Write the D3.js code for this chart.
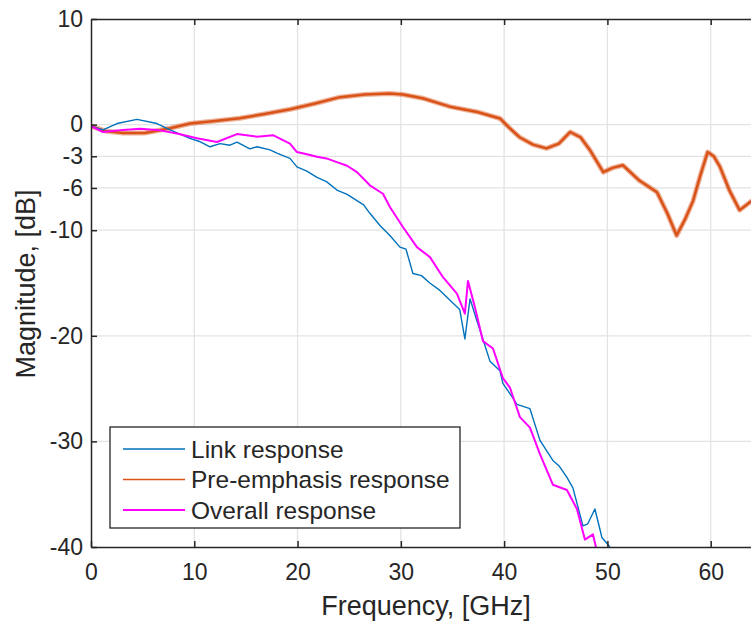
<!DOCTYPE html>
<html>
<head>
<meta charset="utf-8">
<script src="https://cdn.jsdelivr.net/npm/d3@7"></script>
<style>
  body { margin: 0; background: #fff; }
  text { font-family: "Liberation Sans", Arial, sans-serif; fill: #262626; }
</style>
</head>
<body>
<div id="container"></div>
<script>
/* DATA */
const freqLink = [0, 1.16, 2.52, 4.45, 6.39, 7.65, 9.58, 10.5, 11.52, 12.5, 13.46, 14.13, 15.39, 16.07, 17.33, 18.0, 19.26, 19.94, 20.9, 21.88, 22.8, 23.81, 24.8, 25.75, 26.4, 27.0, 27.98, 28.94, 29.91, 30.5, 31.17, 32.0, 32.8, 33.78, 35.04, 35.7, 36.2, 36.7, 37.37, 38.0, 38.63, 39.59, 39.88, 40.85, 41.24, 42.5, 43.47, 44.72, 45.3, 46.08, 46.66, 47.63, 48.1, 48.79, 49.47, 50.24];
const magLink = [-0.15, -0.5, 0.1, 0.5, 0.1, -0.5, -1.3, -1.6, -2.1, -1.8, -1.95, -1.65, -2.3, -2.1, -2.4, -2.7, -3.2, -4.0, -4.4, -5.0, -5.4, -6.2, -6.6, -7.2, -7.6, -8.4, -9.55, -10.5, -11.6, -11.8, -14.1, -14.3, -15.0, -15.7, -16.9, -17.5, -20.3, -16.5, -18.6, -20.5, -22.4, -23.3, -24.5, -25.9, -26.5, -26.9, -29.9, -31.8, -32.3, -33.4, -34.4, -38.0, -37.8, -36.4, -39.1, -40.0];

const freqPre = [0, 1.36, 3.1, 5.2, 7.65, 9.6, 12.0, 14.4, 16.8, 19.3, 21.7, 24.1, 26.5, 28.9, 30.2, 32.1, 34.75, 37.4, 39.6, 40.5, 41.5, 42.8, 44.1, 45.3, 46.4, 47.4, 48.3, 49.6, 50.5, 51.5, 53.1, 54.8, 55.8, 56.7, 57.5, 58.3, 59.0, 59.7, 60.3, 60.9, 61.8, 62.8, 64.0];
const magPre = [-0.15, -0.6, -0.8, -0.8, -0.35, 0.1, 0.35, 0.6, 1.0, 1.45, 2.0, 2.6, 2.85, 2.95, 2.85, 2.5, 1.7, 1.2, 0.58, -0.3, -1.2, -1.9, -2.25, -1.8, -0.7, -1.2, -2.4, -4.5, -4.1, -3.85, -5.3, -6.4, -8.4, -10.5, -9.0, -7.2, -4.8, -2.6, -3.0, -4.0, -6.2, -8.1, -7.2];

const freqAll = [0, 1.16, 3.1, 4.74, 6.39, 8.33, 10.26, 12.2, 14.13, 16.07, 17.62, 19.26, 19.94, 20.9, 21.88, 22.8, 23.81, 24.8, 25.75, 27.0, 28.27, 28.94, 30.2, 31.56, 32.82, 34.08, 35.43, 36.2, 36.5, 37.17, 37.95, 38.92, 39.88, 40.56, 41.53, 42.5, 43.47, 44.72, 46.08, 47.05, 47.82, 48.6, 48.98];
const magAll = [-0.15, -0.7, -0.5, -0.4, -0.5, -0.85, -1.3, -1.65, -0.9, -1.15, -1.0, -1.8, -2.6, -2.8, -3.05, -3.2, -3.55, -3.9, -4.5, -5.75, -6.55, -7.8, -9.7, -11.6, -12.55, -14.45, -16.0, -17.9, -14.8, -17.3, -20.5, -21.2, -24.0, -24.9, -27.7, -28.7, -31.2, -34.1, -34.6, -36.4, -39.3, -38.8, -40.4];

const seriesNames = ["Link response", "Pre-emphasis response", "Overall response"];
const xTicks = [0, 10, 20, 30, 40, 50, 60];
const yTicks = [10, 0, -3, -6, -10, -20, -30, -40];

/* LAYOUT */
const W = 751, H = 623;
const margin = { top: 19, right: -1, bottom: 76, left: 91 };
const width = W - margin.left - margin.right;
const height = H - margin.top - margin.bottom;
const colors = ["#0072BD", "#D95319", "#FF00FF"];

const x = d3.scaleLinear().domain([0, 64]).range([0, width]);
const y = d3.scaleLinear().domain([-40, 10]).range([height, 0]);

const svg = d3.select('#container').append('svg')
  .attr('width', W).attr('height', H);

svg.append('defs').append('clipPath').attr('id', 'clip')
  .append('rect').attr('width', width).attr('height', height);

const chart = svg.append('g')
  .attr('transform', `translate(${margin.left}, ${margin.top})`);

// grid
chart.append('g').selectAll('line.vg')
  .data(xTicks.slice(1)).join('line')
  .attr('x1', d => x(d)).attr('x2', d => x(d))
  .attr('y1', 0).attr('y2', height)
  .attr('stroke', '#e3e3e3').attr('stroke-width', 1.3);
chart.append('g').selectAll('line.hg')
  .data(yTicks.filter(d => d > -40 && d < 10)).join('line')
  .attr('x1', 0).attr('x2', width)
  .attr('y1', d => y(d)).attr('y2', d => y(d))
  .attr('stroke', '#e3e3e3').attr('stroke-width', 1.3);

// lines
const line = d3.line().x(d => x(d[0])).y(d => y(d[1]));
const plot = chart.append('g').attr('clip-path', 'url(#clip)');

const preData = d3.zip(freqPre, magPre);
plot.append('path').datum(preData)
  .attr('d', line).attr('fill', 'none')
  .attr('stroke', colors[1]).attr('stroke-width', 5).attr('stroke-opacity', 0.45)
  .attr('stroke-linejoin', 'round');
plot.append('path').datum(preData)
  .attr('d', line).attr('fill', 'none')
  .attr('stroke', colors[1]).attr('stroke-width', 2.5)
  .attr('stroke-linejoin', 'round');

plot.append('path').datum(d3.zip(freqLink, magLink))
  .attr('d', line).attr('fill', 'none')
  .attr('stroke', colors[0]).attr('stroke-width', 1.4)
  .attr('stroke-linejoin', 'round');

plot.append('path').datum(d3.zip(freqAll, magAll))
  .attr('d', line).attr('fill', 'none')
  .attr('stroke', colors[2]).attr('stroke-width', 2)
  .attr('stroke-linejoin', 'round');

// axes (box style, ticks inward)
const axisColor = '#262626';
const fmt = d => String(d);
const xAxis = chart.append('g')
  .attr('transform', `translate(0, ${height})`)
  .call(d3.axisBottom(x).tickValues(xTicks).tickFormat(fmt).tickSizeInner(-6).tickSizeOuter(0).tickPadding(17));
const xTop = chart.append('g')
  .call(d3.axisTop(x).tickValues(xTicks).tickSizeInner(-6).tickSizeOuter(0).tickFormat(''));
const yAxis = chart.append('g')
  .call(d3.axisLeft(y).tickValues(yTicks).tickFormat(fmt).tickSizeInner(-6).tickSizeOuter(0).tickPadding(8));

[xAxis, xTop, yAxis].forEach(g => {
  g.select('.domain').attr('stroke', axisColor).attr('stroke-width', 1.5);
  g.selectAll('.tick line').attr('stroke', axisColor).attr('stroke-width', 1.5);
  g.selectAll('.tick text').attr('font-size', '23px').attr('fill', axisColor)
    .style('font-family', '"Liberation Sans", Arial, sans-serif');
});
xTop.selectAll('.tick').filter(d => d === 0).remove();

// axis labels
svg.append('text')
  .attr('x', 426).attr('y', 615)
  .attr('text-anchor', 'middle').attr('font-size', '27px')
  .text('Frequency, [GHz]');
svg.append('text')
  .attr('transform', 'rotate(-90)')
  .attr('x', -284).attr('y', 35)
  .attr('text-anchor', 'middle').attr('font-size', '27px')
  .text('Magnitude, [dB]');

// legend
const legend = svg.append('g').attr('transform', 'translate(110, 427)');
legend.append('rect')
  .attr('width', 350).attr('height', 101)
  .attr('fill', '#fff').attr('stroke', axisColor).attr('stroke-width', 1.3);
seriesNames.forEach((name, i) => {
  const row = legend.append('g').attr('transform', `translate(0, ${22 + i * 30.5})`);
  row.append('line')
    .attr('x1', 13).attr('x2', 75)
    .attr('stroke', colors[i]).attr('stroke-width', i === 2 ? 2 : 1.5);
  row.append('text')
    .attr('x', 81).attr('dy', '0.35em')
    .attr('font-size', '24.5px')
    .text(name);
});
</script>
</body>
</html>
